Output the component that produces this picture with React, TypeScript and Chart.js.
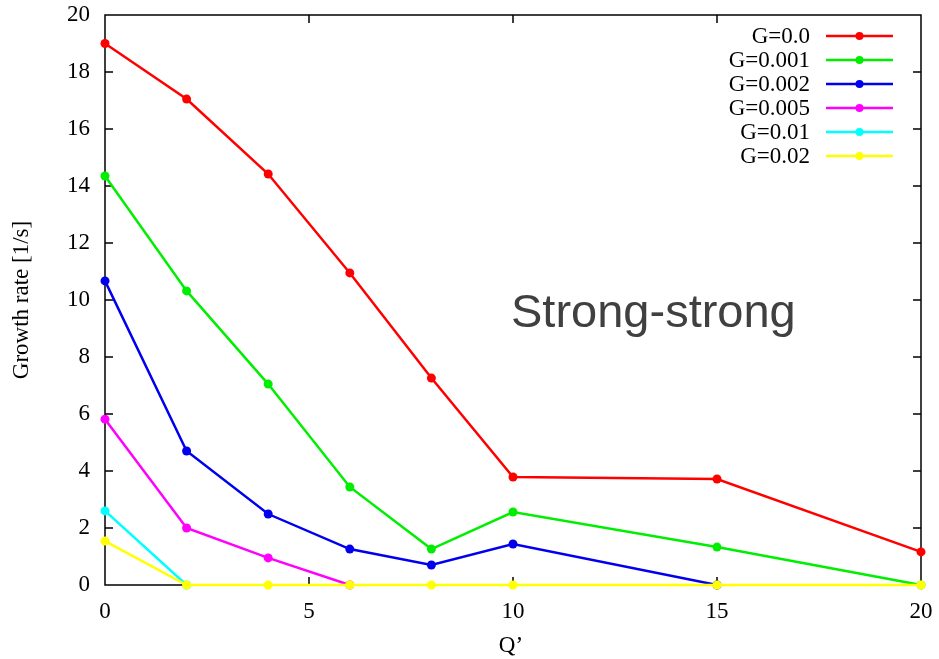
import React, { useEffect, useRef } from "react";
import { Chart, registerables } from "chart.js";

Chart.register(...registerables);

const qValues = [0, 2, 4, 6, 8, 10, 15, 20];
const seriesLabels = ["G=0.0", "G=0.001", "G=0.002", "G=0.005", "G=0.01", "G=0.02"];
const seriesColors = ["#ff0000", "#00ee00", "#0000ee", "#ff00ff", "#00ffff", "#ffff00"];
const g0 = [19.0, 17.05, 14.42, 10.95, 7.26, 3.79, 3.72, 1.16];
const g001 = [14.35, 10.32, 7.05, 3.44, 1.26, 2.56, 1.33, 0];
const g002 = [10.67, 4.7, 2.49, 1.26, 0.7, 1.44, 0];
const g005 = [5.82, 2.0, 0.95, 0];
const g01 = [2.6, 0];
const g02 = [1.54, 0, 0, 0, 0, 0, 0, 0];
const seriesValues = [g0, g001, g002, g005, g01, g02];
const xTicks = [0, 5, 10, 15, 20];
const yTicks = [0, 2, 4, 6, 8, 10, 12, 14, 16, 18, 20];

const SERIF = "'Liberation Serif', 'DejaVu Serif', serif";
const SANS = "'Liberation Sans', Arial, sans-serif";

const framePlugin = {
  id: "gnuFrame",
  beforeDatasetsDraw(chart: any) {
    const { ctx, chartArea } = chart;
    const { left, right, top, bottom } = chartArea;
    const xs = chart.scales.x;
    const ys = chart.scales.y;
    ctx.save();
    ctx.strokeStyle = "#000";
    ctx.lineWidth = 1.5;
    ctx.strokeRect(left, top, right - left, bottom - top);
    ctx.beginPath();
    const tl = 8;
    yTicks.forEach((v) => {
      if (v === 0 || v === 20) return;
      const y = ys.getPixelForValue(v);
      ctx.moveTo(left, y);
      ctx.lineTo(left + tl, y);
      ctx.moveTo(right, y);
      ctx.lineTo(right - tl, y);
    });
    xTicks.forEach((v) => {
      if (v === 0 || v === 20) return;
      const x = xs.getPixelForValue(v);
      ctx.moveTo(x, bottom);
      ctx.lineTo(x, bottom - tl);
      ctx.moveTo(x, top);
      ctx.lineTo(x, top + tl);
    });
    ctx.stroke();
    ctx.restore();
  },
  afterDraw(chart: any) {
    const { ctx, chartArea } = chart;
    ctx.save();
    ctx.fillStyle = "#000";
    ctx.font = `23px ${SERIF}`;
    ctx.textAlign = "center";
    ctx.textBaseline = "alphabetic";
    ctx.fillText("Q\u2019", (chartArea.left + chartArea.right) / 2 - 2, 652);
    ctx.save();
    ctx.translate(28, (chartArea.top + chartArea.bottom) / 2);
    ctx.rotate(-Math.PI / 2);
    ctx.fillText("Growth rate [1/s]", 0, 0);
    ctx.restore();
    seriesLabels.forEach((lab, i) => {
      const y = 36 + 24 * i;
      ctx.fillStyle = "#000";
      ctx.font = `23px ${SERIF}`;
      ctx.textAlign = "right";
      ctx.textBaseline = "middle";
      ctx.fillText(lab, 810, y + 1);
      ctx.strokeStyle = seriesColors[i];
      ctx.lineWidth = 2.5;
      ctx.beginPath();
      ctx.moveTo(826, y);
      ctx.lineTo(893, y);
      ctx.stroke();
      ctx.fillStyle = seriesColors[i];
      ctx.beginPath();
      ctx.arc(859.5, y, 4, 0, Math.PI * 2);
      ctx.fill();
    });
    ctx.fillStyle = "#404040";
    ctx.font = `47px ${SANS}`;
    ctx.textAlign = "left";
    ctx.textBaseline = "alphabetic";
    ctx.fillText("Strong-strong", 511, 327);
    ctx.restore();
  },
};

export default function App() {
  const canvasRef = useRef<HTMLCanvasElement | null>(null);

  useEffect(() => {
    document.body.style.margin = "0";
    const canvas = canvasRef.current;
    if (!canvas) return;
    const datasets = seriesValues.map((vals, i) => ({
      label: seriesLabels[i],
      data: vals.map((v, j) => ({ x: qValues[j], y: v })),
      borderColor: seriesColors[i],
      backgroundColor: seriesColors[i],
      borderWidth: 2.5,
      pointRadius: 4.5,
      pointHoverRadius: 4.5,
      pointBorderWidth: 0,
      tension: 0,
      fill: false,
      clip: false as any,
      order: 5 - i,
    }));
    const chart = new Chart(canvas, {
      type: "line",
      data: { datasets },
      options: {
        animation: false,
        responsive: true,
        maintainAspectRatio: false,
        layout: { padding: { top: 15, right: 18, left: 0, bottom: 0 } },
        plugins: { legend: { display: false }, tooltip: { enabled: false } },
        scales: {
          x: {
            type: "linear",
            min: 0,
            max: 20,
            grid: { display: false, drawTicks: false },
            border: { display: false },
            afterFit: (s: any) => {
              s.height = 74;
              s.paddingLeft = 0;
              s.paddingRight = 0;
            },
            afterBuildTicks: (s: any) => {
              s.ticks = xTicks.map((v) => ({ value: v }));
            },
            ticks: {
              color: "#000",
              font: { family: SERIF, size: 23 },
              padding: 13,
              maxRotation: 0,
            },
          },
          y: {
            type: "linear",
            min: 0,
            max: 20,
            grid: { display: false, drawTicks: false },
            border: { display: false },
            afterFit: (s: any) => {
              s.width = 105;
              s.paddingTop = 0;
              s.paddingBottom = 0;
            },
            afterBuildTicks: (s: any) => {
              s.ticks = yTicks.map((v) => ({ value: v }));
            },
            ticks: {
              color: "#000",
              font: { family: SERIF, size: 23 },
              padding: 15,
            },
          },
        },
      },
      plugins: [framePlugin],
    });
    return () => chart.destroy();
  }, []);

  return (
    <div style={{ width: 939, height: 659, position: "relative", background: "#fff" }}>
      <canvas ref={canvasRef} />
    </div>
  );
}
